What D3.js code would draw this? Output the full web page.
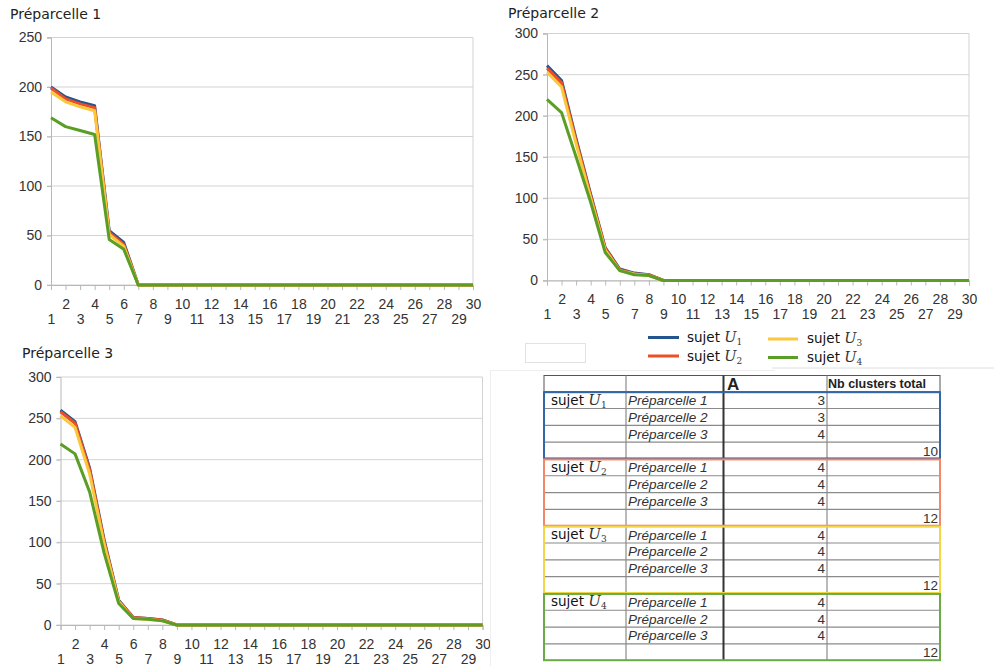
<!DOCTYPE html>
<html>
<head>
<meta charset="utf-8">
<script src="https://cdn.jsdelivr.net/npm/d3@7"></script>
<style>
  html, body { margin: 0; padding: 0; background: #fff; }
  svg { display: block; }
</style>
</head>
<body>
<svg id="root" width="994" height="666"></svg>
<script>
// ---------- DATA ----------
const positions = [1,2,3,4,5,6,7,8,9,10,11,12,13,14,15,16,17,18,19,20,21,22,23,24,25,26,27,28,29,30];
const seriesNames = ["U1","U2","U3","U4"];
const chartTitles = ["Préparcelle 1","Préparcelle 2","Préparcelle 3"];
const yTicks1 = [0,50,100,150,200,250];
const yTicks23 = [0,50,100,150,200,250,300];

const p1U1 = [200,190,185,181,55,43,0,0,0,0,0,0,0,0,0,0,0,0,0,0,0,0,0,0,0,0,0,0,0,0];
const p1U2 = [199,188,183,179,53,41,0,0,0,0,0,0,0,0,0,0,0,0,0,0,0,0,0,0,0,0,0,0,0,0];
const p1U3 = [195,185,180,176,51,39,0,0,0,0,0,0,0,0,0,0,0,0,0,0,0,0,0,0,0,0,0,0,0,0];
const p1U4 = [169,160,156,152,46,36,0,0,0,0,0,0,0,0,0,0,0,0,0,0,0,0,0,0,0,0,0,0,0,0];

const p2U1 = [261,243,172,105,40,14,9,7,0,0,0,0,0,0,0,0,0,0,0,0,0,0,0,0,0,0,0,0,0,0];
const p2U2 = [258,240,170,103,39,13,8,7,0,0,0,0,0,0,0,0,0,0,0,0,0,0,0,0,0,0,0,0,0,0];
const p2U3 = [253,235,166,100,37,12,8,6,0,0,0,0,0,0,0,0,0,0,0,0,0,0,0,0,0,0,0,0,0,0];
const p2U4 = [220,204,150,95,34,12,7,6,0,0,0,0,0,0,0,0,0,0,0,0,0,0,0,0,0,0,0,0,0,0];

const p3U1 = [260,246,190,103,30,9,8,6,0,0,0,0,0,0,0,0,0,0,0,0,0,0,0,0,0,0,0,0,0,0];
const p3U2 = [258,244,188,101,29,9,8,6,0,0,0,0,0,0,0,0,0,0,0,0,0,0,0,0,0,0,0,0,0,0];
const p3U3 = [253,239,183,98,28,8,7,5,0,0,0,0,0,0,0,0,0,0,0,0,0,0,0,0,0,0,0,0,0,0];
const p3U4 = [219,207,161,87,26,8,7,5,0,0,0,0,0,0,0,0,0,0,0,0,0,0,0,0,0,0,0,0,0,0];

// table data
const tableSubjects = ["1","2","3","4"];
const tableParcels = ["Préparcelle 1","Préparcelle 2","Préparcelle 3"];
const valuesA_U1 = [3,3,4];
const valuesA_U2 = [4,4,4];
const valuesA_U3 = [4,4,4];
const valuesA_U4 = [4,4,4];
const clusterTotals = [10,12,12,12];
const tableHeaders = ["A","Nb clusters total"];

// ---------- STYLE ----------
const lineColors = ["#24558f","#ec4f25","#fbc83d","#5a9e25"];
const borderColors = ["#3467a6","#f2876a","#f3d646","#6aab46"];
const svg = d3.select("#root");

// ---------- CHARTS ----------
const charts = [
  {title: chartTitles[0], tx:10, ty:18.5, x0:51, x1:473, yb:285, yt:37.5, max:250, ticks:yTicks1, data:[p1U1,p1U2,p1U3,p1U4]},
  {title: chartTitles[1], tx:508, ty:17.5, x0:547, x1:969, yb:280.5, yt:33.5, max:300, ticks:yTicks23, data:[p2U1,p2U2,p2U3,p2U4]},
  {title: chartTitles[2], tx:22, ty:357.5, x0:60.5, x1:482.5, yb:625, yt:377, max:300, ticks:yTicks23, data:[p3U1,p3U2,p3U3,p3U4]}
];

charts.forEach(c => {
  const g = svg.append("g");
  const x = d3.scaleLinear().domain([1,30]).range([c.x0, c.x1]);
  const y = d3.scaleLinear().domain([0,c.max]).range([c.yb, c.yt]);

  g.append("text").attr("x", c.tx).attr("y", c.ty)
    .attr("font-family","DejaVu Sans").attr("font-size",14).attr("fill","#222")
    .text(c.title);

  // gridlines
  g.append("g").selectAll("line").data(c.ticks).join("line")
    .attr("x1", c.x0 - 4).attr("x2", c.x1)
    .attr("y1", d => y(d)).attr("y2", d => y(d))
    .attr("stroke", "#d3d3d3").attr("stroke-width", 1);
  // right border
  g.append("line").attr("x1", c.x1).attr("x2", c.x1).attr("y1", c.yt).attr("y2", c.yb)
    .attr("stroke", "#d3d3d3");

  // y axis
  const ya = g.append("g").attr("transform", `translate(${c.x0},0)`)
    .call(d3.axisLeft(y).tickValues(c.ticks).tickSize(4).tickPadding(5));
  ya.select(".domain").attr("stroke", "#b8b8b8");
  ya.selectAll(".tick line").attr("stroke", "#b8b8b8");
  ya.selectAll("text").attr("font-family","Liberation Sans").attr("font-size",14).attr("fill","#333");

  // x axis
  const xa = g.append("g").attr("transform", `translate(0,${c.yb})`)
    .call(d3.axisBottom(x).tickValues(positions).tickSize(5).tickFormat(d => d));
  xa.select(".domain").attr("stroke", "#b8b8b8");
  xa.selectAll(".tick line").attr("stroke", "#b8b8b8");
  xa.selectAll("text").attr("font-family","Liberation Sans").attr("font-size",14).attr("fill","#333")
    .attr("y", d => d % 2 === 0 ? 14 : 29);

  // lines
  const line = d3.line().x((d,i) => x(positions[i])).y(d => y(d));
  c.data.forEach((s, k) => {
    g.append("path").datum(s).attr("d", line)
      .attr("fill","none").attr("stroke", lineColors[k]).attr("stroke-width", 3)
      .attr("stroke-linejoin","round");
  });
});

// ---------- LEGEND / LABEL HELPER ----------
function subjectLabel(sel, x, y, idx, fs, ufs, sfs) {
  const t = sel.append("text").attr("x", x).attr("y", y)
    .attr("font-family","DejaVu Sans").attr("font-size", fs).attr("fill","#111");
  t.append("tspan").text("sujet ");
  t.append("tspan").attr("font-family","DejaVu Serif").attr("font-style","italic")
    .attr("font-size", ufs).attr("fill","#333").text("U");
  t.append("tspan").attr("font-family","DejaVu Serif").attr("font-size", sfs)
    .attr("dy", 3).attr("fill","#333").text(tableSubjects[idx]);
  return t;
}
const legend = svg.append("g");
const legPos = [
  {lx1:648, lx2:679, ly:337.5, tx:687, ty:342},
  {lx1:648, lx2:679, ly:356, tx:687, ty:360.5},
  {lx1:768, lx2:798, ly:339, tx:807, ty:343},
  {lx1:768, lx2:798, ly:357.5, tx:807, ty:362}
];
seriesNames.forEach((n, k) => {
  const p = legPos[k];
  legend.append("line").attr("x1", p.lx1).attr("x2", p.lx2).attr("y1", p.ly).attr("y2", p.ly)
    .attr("stroke", lineColors[k]).attr("stroke-width", 3);
  subjectLabel(legend, p.tx, p.ty, k, 13.5, 14.5, 9);
});

// decorative empty box + faint separators
svg.append("rect").attr("x",525.5).attr("y",343.5).attr("width",60).attr("height",19)
  .attr("fill","none").attr("stroke","#e2e2e2");
svg.append("line").attr("x1",772).attr("x2",994).attr("y1",368).attr("y2",368).attr("stroke","#dedede");
svg.append("line").attr("x1",490).attr("x2",775).attr("y1",370.5).attr("y2",370.5).attr("stroke","#eeeeee");
svg.append("line").attr("x1",490.5).attr("x2",490.5).attr("y1",370).attr("y2",666).attr("stroke","#eeeeee");

// ---------- TABLE ----------
const tbl = svg.append("g");
const colX = [544, 626, 723.5, 827, 940];
const headTop = 375.5, headBot = 391.7, groupH = 67.25, rowH = groupH / 4;
const valuesA = [valuesA_U1, valuesA_U2, valuesA_U3, valuesA_U4];

// header
tbl.append("rect").attr("x", colX[0]).attr("y", headTop).attr("width", colX[4]-colX[0]).attr("height", headBot-headTop)
  .attr("fill","none").attr("stroke","#555");
tbl.append("text").attr("x", 727).attr("y", 389.5).attr("font-family","Liberation Sans").attr("font-weight","bold")
  .attr("font-size", 17).attr("fill","#222").text(tableHeaders[0]);
tbl.append("text").attr("x", 828).attr("y", 388).attr("font-family","Liberation Sans").attr("font-weight","bold")
  .attr("font-size", 12.5).attr("fill","#222").text(tableHeaders[1]);

tableSubjects.forEach((s, gi) => {
  const top = headBot + gi * groupH;
  for (let r = 1; r < 4; r++) {
    tbl.append("line").attr("x1", colX[0]).attr("x2", colX[4])
      .attr("y1", top + r*rowH).attr("y2", top + r*rowH).attr("stroke","#8a8a8a").attr("stroke-width",1.2);
  }
  subjectLabel(tbl, 551, top + rowH*0.5 + 4.5, gi, 13.5, 15, 9);
  tableParcels.forEach((p, r) => {
    const cy = top + rowH*(r+0.5) + 5;
    tbl.append("text").attr("x", 628).attr("y", cy).attr("font-family","Liberation Sans").attr("font-style","italic")
      .attr("font-size", 13.5).attr("fill","#333").text(p);
    tbl.append("text").attr("x", 825).attr("y", cy).attr("text-anchor","end").attr("font-family","Liberation Sans")
      .attr("font-size", 13.5).attr("fill","#333").text(valuesA[gi][r]);
  });
  tbl.append("text").attr("x", 938).attr("y", top + rowH*3.5 + 5).attr("text-anchor","end")
    .attr("font-family","Liberation Sans").attr("font-size", 13.5).attr("fill","#333").text(clusterTotals[gi]);
});
tbl.append("line").attr("x1", colX[1]).attr("x2", colX[1]).attr("y1", headTop).attr("y2", headBot + 4*groupH).attr("stroke","#8a8a8a").attr("stroke-width",1.2);
tbl.append("line").attr("x1", colX[2]).attr("x2", colX[2]).attr("y1", headTop).attr("y2", headBot + 4*groupH).attr("stroke","#333").attr("stroke-width",2);
tbl.append("line").attr("x1", colX[3]).attr("x2", colX[3]).attr("y1", headTop).attr("y2", headBot + 4*groupH).attr("stroke","#8a8a8a").attr("stroke-width",1.2);
tableSubjects.forEach((s, gi) => {
  const top = headBot + gi * groupH;
  tbl.append("rect").attr("x", colX[0]).attr("y", top + 0.5).attr("width", colX[4]-colX[0]).attr("height", groupH - 1)
    .attr("fill","none").attr("stroke", borderColors[gi]).attr("stroke-width", 2);
});
</script>
</body>
</html>
